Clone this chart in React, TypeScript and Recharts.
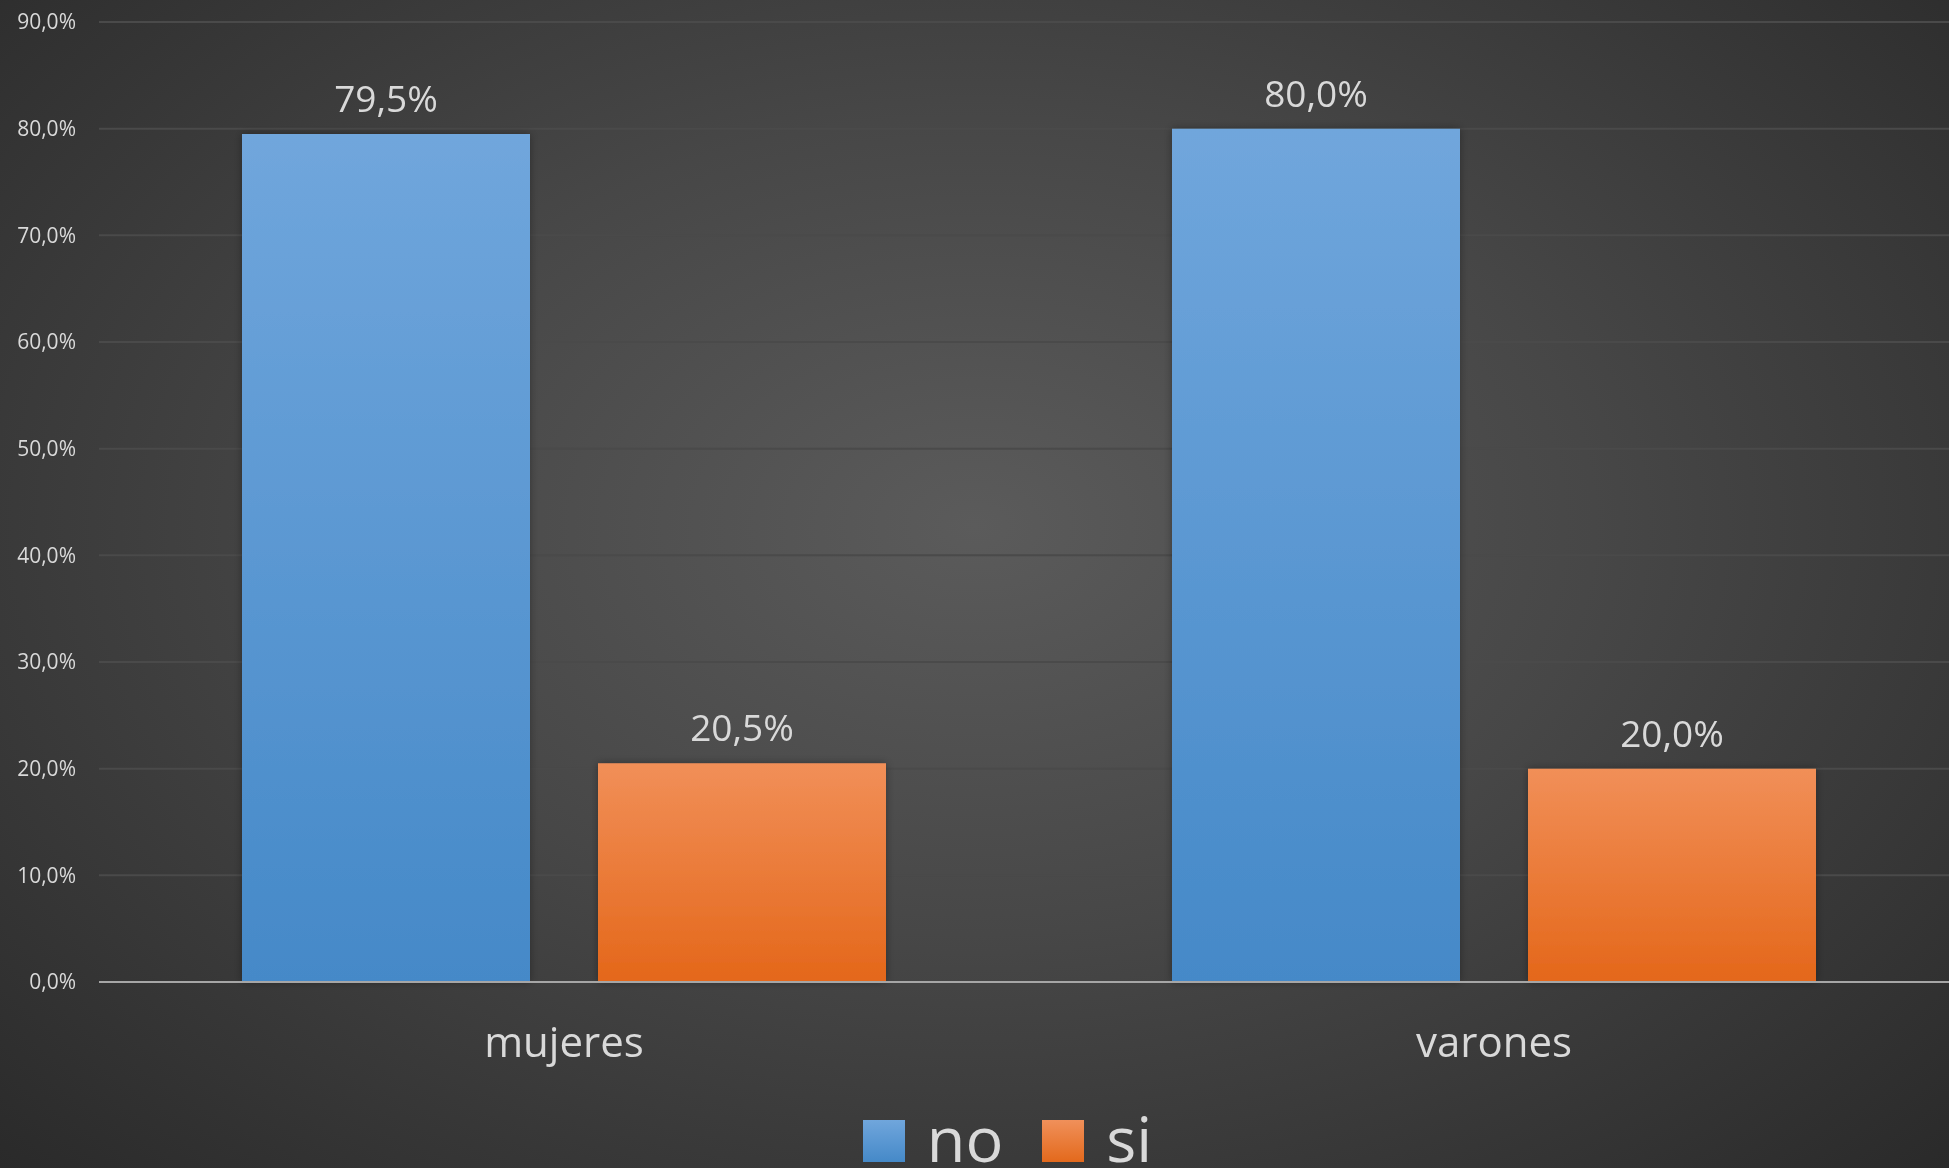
import { BarChart, Bar, XAxis, YAxis, CartesianGrid, Legend, LabelList } from 'recharts';

const categories = ['mujeres', 'varones'];
const noValues = [79.5, 80.0];
const siValues = [20.5, 20.0];
const yTicks = [0, 10, 20, 30, 40, 50, 60, 70, 80, 90];

const TEXT_COLOR = '#d9d9d9';
const FONT = '"Open Sans", "Noto Sans", sans-serif';

const data = categories.map((c, i) => ({ name: c, no: noValues[i], si: siValues[i] }));

const fmt = (v: number) => `${v.toFixed(1).replace('.', ',')}%`;

const LegendContent = () => (
  <div style={{ display: 'flex', justifyContent: 'center', alignItems: 'flex-end', height: 50, paddingLeft: 56 }}>
    <div style={{ display: 'flex', alignItems: 'flex-end', marginRight: 39 }}>
      <div style={{ width: 42, height: 42, background: 'linear-gradient(#70a6dc, #4589c8)', marginBottom: 6 }} />
      <span style={{ fontFamily: FONT, fontSize: 63, lineHeight: '40px', color: TEXT_COLOR, marginLeft: 22, marginBottom: 10 }}>no</span>
    </div>
    <div style={{ display: 'flex', alignItems: 'flex-end' }}>
      <div style={{ width: 42, height: 42, background: 'linear-gradient(#f0905a, #e3691c)', marginBottom: 6 }} />
      <span style={{ fontFamily: FONT, fontSize: 63, lineHeight: '40px', color: TEXT_COLOR, marginLeft: 22, marginBottom: 10 }}>si</span>
    </div>
  </div>
);

export default function App() {
  return (
    <div
      style={{
        position: 'fixed',
        left: 0,
        top: 0,
        width: 1949,
        height: 1168,
        overflow: 'hidden',
        background: 'radial-gradient(ellipse at 50% 45%, #5b5b5b 0%, #474747 45%, #2a2a2a 100%)',
      }}
    >
      <BarChart
        width={1949}
        height={1168}
        data={data}
        margin={{ top: 22, right: -10, left: 0, bottom: 0 }}
        barSize={288}
        barGap={68}
      >
        <defs>
          <linearGradient id="gradNo" x1="0" y1="0" x2="0" y2="1">
            <stop offset="0%" stopColor="#70a6dc" />
            <stop offset="100%" stopColor="#4589c8" />
          </linearGradient>
          <linearGradient id="gradSi" x1="0" y1="0" x2="0" y2="1">
            <stop offset="0%" stopColor="#f18f58" />
            <stop offset="100%" stopColor="#e4671a" />
          </linearGradient>
          <filter id="barShadow" x="-10%" y="-10%" width="120%" height="120%">
            <feDropShadow dx="0" dy="0" stdDeviation="4" floodColor="#000" floodOpacity="0.35" />
          </filter>
        </defs>
        <CartesianGrid horizontal vertical={false} stroke="#4a4a4a" strokeWidth={2} />
        <XAxis
          dataKey="name"
          height={136}
          axisLine={{ stroke: '#a6a6a6', strokeWidth: 2 }}
          tickLine={false}
          tickSize={0}
          tick={{ fill: TEXT_COLOR, fontSize: 42, fontFamily: FONT }}
          tickMargin={45}
        />
        <YAxis
          domain={[0, 90]}
          ticks={yTicks}
          width={99}
          axisLine={false}
          tickLine={false}
          tickSize={0}
          tickMargin={23}
          tickFormatter={fmt}
          tick={{ fill: TEXT_COLOR, fontSize: 21, fontFamily: FONT }}
        />
        <Legend verticalAlign="bottom" content={<LegendContent />} wrapperStyle={{ bottom: 0 }} />
        <Bar dataKey="no" name="no" fill="url(#gradNo)" filter="url(#barShadow)" isAnimationActive={false}>
          <LabelList dataKey="no" position="top" offset={22} formatter={(v: any) => fmt(Number(v))} fill={TEXT_COLOR} fontSize={37} fontFamily={FONT} />
        </Bar>
        <Bar dataKey="si" name="si" fill="url(#gradSi)" filter="url(#barShadow)" isAnimationActive={false}>
          <LabelList dataKey="si" position="top" offset={22} formatter={(v: any) => fmt(Number(v))} fill={TEXT_COLOR} fontSize={37} fontFamily={FONT} />
        </Bar>
      </BarChart>
    </div>
  );
}
